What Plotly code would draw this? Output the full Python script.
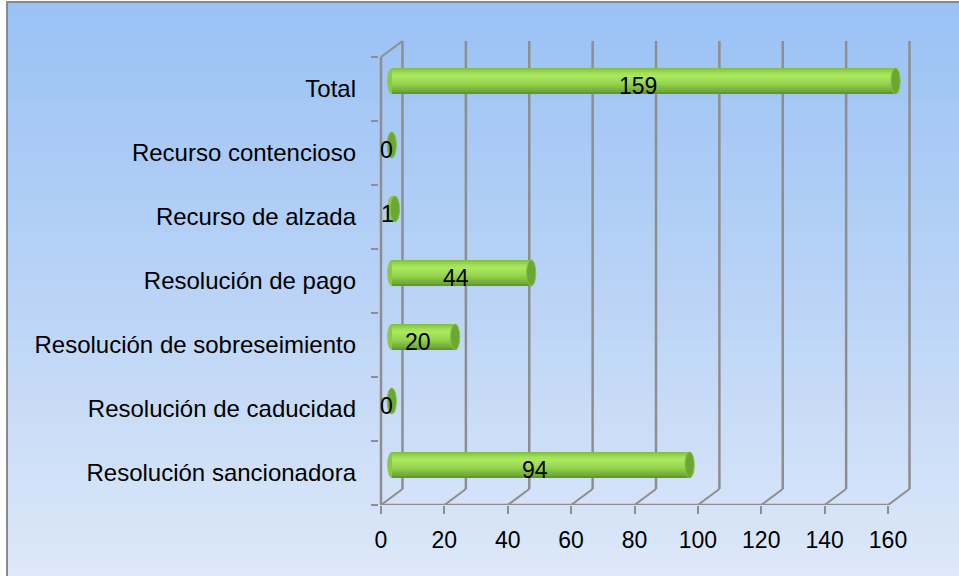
import plotly.graph_objects as go

# data (bottom to top, as on the chart)
categories = [
    "Resolución sancionadora",
    "Resolución de caducidad",
    "Resolución de sobreseimiento",
    "Resolución de pago",
    "Recurso de alzada",
    "Recurso contencioso",
    "Total",
]
values = [94, 0, 20, 44, 1, 0, 159]
x_ticks = [0, 20, 40, 60, 80, 100, 120, 140, 160]

# geometry: pixel layout of the plot area
W, H = 959, 576
M_L, M_R, M_T, M_B = 379, 47, 38, 71
PX_PER_X = 507 / 160          # px per value unit
PX_PER_Y = 64                 # px per category
X_RANGE = [-2 / PX_PER_X, -2 / PX_PER_X + (W - M_L - M_R) / PX_PER_X]
Y_RANGE = [-0.5, -0.5 + (H - M_T - M_B) / PX_PER_Y]

DX = 21.5 / PX_PER_X          # depth offset of back wall, value units
DY = 16 / PX_PER_Y            # depth offset of back wall, category units
T = 26 / PX_PER_Y             # cylinder thickness
RX = 4.6 / PX_PER_X           # half width of cylinder end ellipse

GRID = "#8E8E8E"
TEXT = "#000000"
FONT = "Liberation Sans, Arial, sans-serif"


def hex_to_rgb(h):
    h = h.lstrip("#")
    return tuple(int(h[i:i + 2], 16) for i in (0, 2, 4))


def mix(stops, t):
    for (t0, c0), (t1, c1) in zip(stops, stops[1:]):
        if t <= t1:
            f = 0 if t1 == t0 else (t - t0) / (t1 - t0)
            a, b = hex_to_rgb(c0), hex_to_rgb(c1)
            return "rgb(%d,%d,%d)" % tuple(round(a[i] + (b[i] - a[i]) * f) for i in range(3))
    return stops[-1][1]


def paper_x(px):
    return (px - M_L) / (W - M_L - M_R)


def paper_y(py):
    return (H - M_B - py) / (H - M_T - M_B)


shapes = []

# background gradient
bg_stops = [(0, "#9AC2F5"), (0.5, "#B9D3F6"), (1, "#DDE8F9")]
n_bg = 60
top, bottom = 2, H + 2
for k in range(n_bg):
    y0 = top + (bottom - top) * k / n_bg
    y1 = top + (bottom - top) * (k + 1) / n_bg + 1
    shapes.append(dict(
        type="rect", xref="paper", yref="paper", layer="below",
        x0=paper_x(7), x1=paper_x(W + 5), y0=paper_y(y0), y1=paper_y(y1),
        fillcolor=mix(bg_stops, k / (n_bg - 1)), line=dict(width=0),
    ))
shapes.append(dict(
    type="rect", xref="paper", yref="paper", layer="below",
    x0=paper_x(7), x1=paper_x(W + 5), y0=paper_y(2), y1=paper_y(H + 5),
    line=dict(color="#8A8A8A", width=2), fillcolor="rgba(0,0,0,0)",
))


def seg(x0, y0, x1, y1, width=2.5):
    shapes.append(dict(
        type="line", xref="x", yref="y", layer="below",
        x0=x0, y0=y0, x1=x1, y1=y1, line=dict(color=GRID, width=width),
    ))


y_lo, y_hi = -0.5, len(categories) - 0.5
# back wall gridlines and floor diagonals
for v in x_ticks:
    seg(v + DX, y_lo + DY, v + DX, y_hi + DY)
    seg(v, y_lo, v + DX, y_lo + DY, 2)
# front frame
seg(0, y_lo, 0, y_hi)
seg(0, y_lo, x_ticks[-1], y_lo)
seg(0, y_hi, DX, y_hi + DY, 2)

# cylinder back ends
bar_y = [i + DY / 2 for i in range(len(categories))]
for yc in bar_y:
    shapes.append(dict(
        type="circle", xref="x", yref="y", layer="below",
        x0=DX / 2 - RX, x1=DX / 2 + RX, y0=yc - T / 2, y1=yc + T / 2,
        fillcolor="#8BC846", line=dict(width=0),
    ))
# cylinder front faces
for v, yc in zip(values, bar_y):
    shapes.append(dict(
        type="circle", xref="x", yref="y", layer="above",
        x0=v + DX / 2 - RX, x1=v + DX / 2 + RX, y0=yc - T / 2, y1=yc + T / 2,
        fillcolor="#6DA733", line=dict(color="#86C046", width=1),
    ))

fig = go.Figure()

# cylinder bodies as stacked strips for the shading
bar_stops = [
    (0.0, "#7DBD3D"), (0.15, "#9BDA52"), (0.32, "#A9E85F"),
    (0.55, "#9AD851"), (0.75, "#84C242"), (0.9, "#6FAB35"), (1.0, "#5A8F2A"),
]
n_strips = 14
for k in range(n_strips):
    fig.add_trace(go.Bar(
        x=values, y=bar_y, base=DX / 2, orientation="h",
        width=T / n_strips + 0.002, offset=T / 2 - (k + 1) * T / n_strips,
        marker=dict(color=mix(bar_stops, (k + 0.5) / n_strips), line=dict(width=0)),
        hoverinfo="skip", showlegend=False,
    ))

annotations = [
    dict(x=v / 2 + DX / 4, y=i + 0.05, xref="x", yref="y", text=str(v),
         showarrow=False, font=dict(size=23, color=TEXT, family=FONT))
    for i, v in enumerate(values)
]

fig.update_layout(
    width=W, height=H,
    margin=dict(l=M_L, r=M_R, t=M_T, b=M_B),
    paper_bgcolor="white", plot_bgcolor="rgba(0,0,0,0)",
    font=dict(family=FONT, color=TEXT),
    barmode="overlay", bargap=0,
    shapes=shapes, annotations=annotations,
    showlegend=False,
)
fig.update_xaxes(
    range=X_RANGE, showgrid=False, zeroline=False, showline=False,
    tickmode="array", tickvals=x_ticks, ticktext=[str(t) for t in x_ticks],
    ticks="outside", ticklen=8, tickwidth=2, tickcolor=GRID,
    tickfont=dict(size=23, color=TEXT), ticklabelstandoff=6,
)
fig.update_yaxes(
    range=Y_RANGE, showgrid=False, zeroline=False, showline=False,
    tickmode="array", tickvals=list(range(len(categories))), ticktext=categories,
    ticks="", tickfont=dict(size=24, color=TEXT), ticklabelstandoff=22,
    minor=dict(tickmode="array", tickvals=[i - 0.5 for i in range(len(categories) + 1)],
               ticks="outside", ticklen=7, tickwidth=1.5, tickcolor=GRID, showgrid=False),
)

# page body has a default margin; drop it so the figure sits at the window corner
fig.write_html(
    "out.html",
    config={"displayModeBar": False},
    post_script="document.body.style.margin='0px';document.body.style.overflow='hidden';",
)
